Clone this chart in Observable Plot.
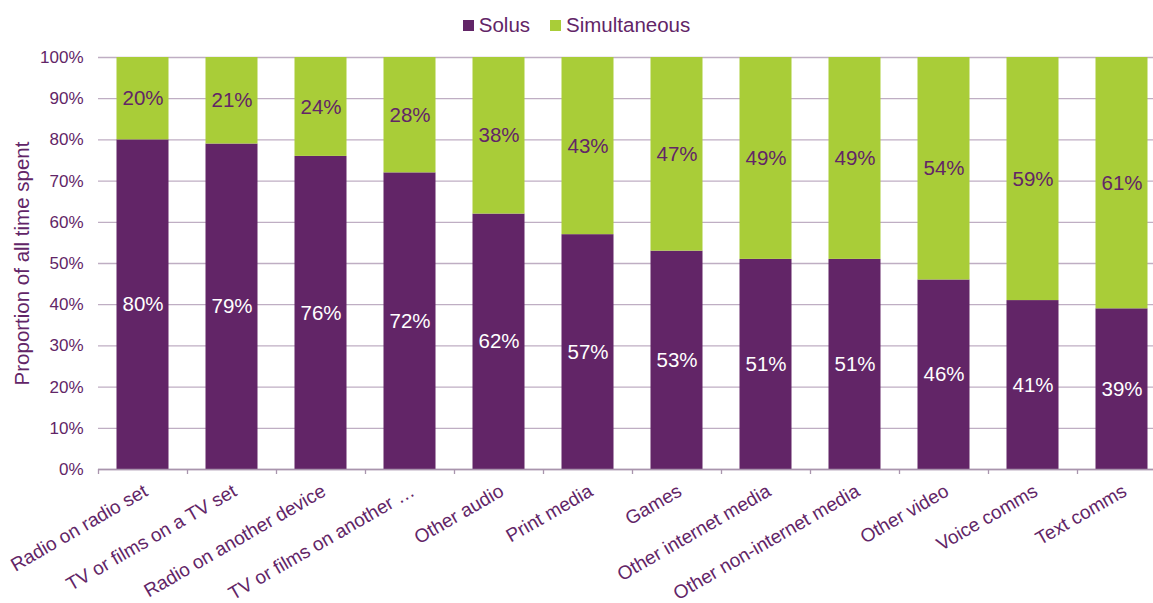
<!DOCTYPE html>
<html>
<head>
<meta charset="utf-8">
<script src="https://cdn.jsdelivr.net/npm/d3@7"></script>
<script src="https://cdn.jsdelivr.net/npm/@observablehq/plot@0.6"></script>
<style>
  html, body { margin: 0; padding: 0; background: #fff; overflow: hidden; }
  body { width: 1153px; height: 603px; font-family: "Liberation Sans", Arial, sans-serif; }
  #legend { height: 44px; display: flex; justify-content: center; align-items: center; gap: 20px; color: #622567; font-size: 20.5px; padding-top: 6px; box-sizing: border-box; }
  #legend .item { display: flex; align-items: center; gap: 5px; }
  #legend .sw { width: 11px; height: 11px; display: inline-block; }
  #chart { width: 1153px; overflow: hidden; }
  svg { display: block; }
</style>
</head>
<body>
<div id="legend"></div>
<div id="chart"></div>
<script>
const categories = [
  "Radio on radio set",
  "TV or films on a TV set",
  "Radio on another device",
  "TV or films on another …",
  "Other audio",
  "Print media",
  "Games",
  "Other internet media",
  "Other non-internet media",
  "Other video",
  "Voice comms",
  "Text comms"
];
const solus = [80, 79, 76, 72, 62, 57, 53, 51, 51, 46, 41, 39];
const simultaneous = [20, 21, 24, 28, 38, 43, 47, 49, 49, 54, 59, 61];
const seriesNames = ["Solus", "Simultaneous"];
const yTicks = [0, 10, 20, 30, 40, 50, 60, 70, 80, 90, 100];

const colors = { "Solus": "#622567", "Simultaneous": "#a9cd38" };
const textColor = "#622567";

const data = [];
categories.forEach((c, i) => {
  data.push({ category: c, series: "Solus", value: solus[i], order: 0 });
  data.push({ category: c, series: "Simultaneous", value: simultaneous[i], order: 1 });
});

// legend
const legend = document.getElementById("legend");
seriesNames.forEach(s => {
  const item = document.createElement("span");
  item.className = "item";
  item.innerHTML = `<span class="sw" style="background:${colors[s]}"></span><span>${s}</span>`;
  legend.appendChild(item);
});

const step = 89;
const marginLeft = 98;
const width = marginLeft + step * categories.length;

const chart = Plot.plot({
  width: width,
  height: 559,
  marginLeft: marginLeft,
  marginRight: 0,
  marginTop: 13,
  marginBottom: 134,
  style: { fontFamily: "Liberation Sans, Arial, sans-serif", color: textColor, background: "white", overflow: "visible", maxWidth: "none" },
  x: { domain: categories, padding: 0, label: null },
  y: { domain: [0, 100], label: null },
  color: { domain: seriesNames, range: seriesNames.map(s => colors[s]) },
  marks: [
    Plot.gridY(yTicks, { stroke: "#bfaec3", strokeOpacity: 1, strokeWidth: 1.3 }),
    Plot.barY(data, Plot.stackY({
      x: "category", y: "value", fill: "series", order: "order",
      insetLeft: 18.5, insetRight: 18.5
    })),
    Plot.text(data, Plot.stackY({
      x: "category", y: "value", order: "order",
      text: d => d.value + "%",
      fill: d => d.series === "Solus" ? "#ffffff" : textColor,
      fontSize: 20.5
    })),
    Plot.ruleY([0], { stroke: "#a995ad", strokeWidth: 1.3 }),
    Plot.ruleX(categories, { x: d => d, y1: 0, y2: 0, insetBottom: -5, dx: -step / 2, stroke: "#a995ad", strokeWidth: 1.3 }),
    Plot.axisY(yTicks, {
      tickSize: 0, tickPadding: 15, fontSize: 17, fill: textColor,
      tickFormat: d => d + "%", label: null
    }),
    Plot.axisX({
      tickSize: 0, tickPadding: 20, tickRotate: -30, fontSize: 19, fill: textColor, label: null, dx: 3
    }),
    Plot.text(["Proportion of all time spent"], {
      frameAnchor: "left", textAnchor: "middle", dx: -76, rotate: -90, fontSize: 20.5, fill: textColor
    })
  ]
});
document.getElementById("chart").appendChild(chart);
</script>
</body>
</html>
